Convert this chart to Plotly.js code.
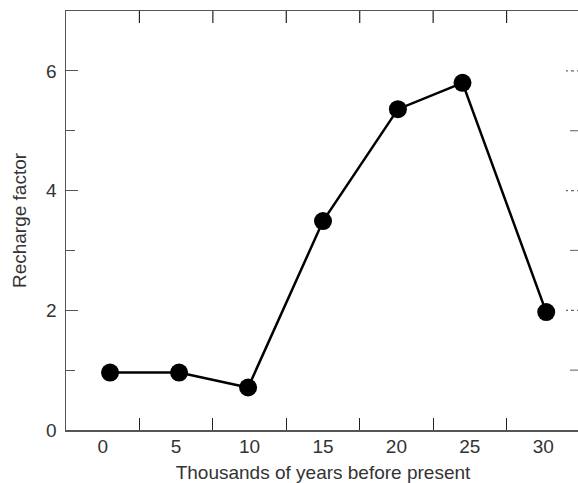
<!DOCTYPE html>
<html><head><meta charset="utf-8">
<script src="https://cdn.plot.ly/plotly-3.0.1.min.js"></script>
<style>html,body{margin:0;padding:0;overflow:hidden;background:#fff;width:578px;height:483px}</style>
</head><body>
<div id="chart" style="width:580px;height:483px"></div>
<script>
const years = [0.5, 5.2, 9.9, 15.0, 20.1, 24.5, 30.2];
const recharge = [0.96, 0.96, 0.71, 3.49, 5.36, 5.80, 1.97];
const xTickVals = [0, 5, 10, 15, 20, 25, 30];
const xMinorVals = [2.5, 7.5, 12.5, 17.5, 22.5, 27.5];
const yTickVals = [0, 2, 4, 6];
const yMinorVals = [1, 3, 5];
const xTitle = 'Thousands of years before present';
const yTitle = 'Recharge factor';

const font = {family: 'Liberation Sans, Arial, sans-serif', size: 19, color: '#333'};
const axisColor = '#555';
const W = 580, H = 483, M = {l: 66, r: 0, t: 11, b: 53};
const plotW = W - M.l - M.r, plotH = H - M.t - M.b;

// mirrored tick marks on the top and right edges, built from the tick arrays
const topTicks = xMinorVals.map(v => ({
  type: 'line', xref: 'x', yref: 'paper', x0: v, x1: v, y0: 1, y1: 1 - 12 / plotH,
  line: {color: '#222', width: 1.2}
}));
const rightMajor = yTickVals.filter(v => v > 0).map(v => ({
  type: 'line', xref: 'paper', yref: 'y', x0: 1, x1: 1 - 14 / plotW, y0: v, y1: v,
  line: {color: '#666', width: 1.3, dash: 'dot'}
}));
const rightMinor = yMinorVals.map(v => ({
  type: 'line', xref: 'paper', yref: 'y', x0: 1, x1: 1 - 10 / plotW, y0: v, y1: v,
  line: {color: '#777', width: 1.2}
}));

Plotly.newPlot('chart', [{
  x: years, y: recharge, type: 'scatter', mode: 'lines+markers',
  line: {color: '#000', width: 2.5},
  marker: {color: '#000', size: 18},
  showlegend: false, hoverinfo: 'skip'
}], {
  width: W, height: H,
  margin: M,
  paper_bgcolor: '#fff', plot_bgcolor: '#fff',
  font: font,
  shapes: [...topTicks, ...rightMajor, ...rightMinor],
  xaxis: {
    range: [-2.5, 32.5], tickvals: xTickVals, ticks: '', showgrid: false, zeroline: false,
    showline: true, linecolor: axisColor, linewidth: 1.5, mirror: true,
    minor: {tickmode: 'array', tickvals: xMinorVals, ticks: 'inside', ticklen: 12, tickcolor: '#222', tickwidth: 1.2, showgrid: false},
    tickfont: font, ticklabelstandoff: -1,
    title: {text: xTitle, font: font, standoff: 21}
  },
  yaxis: {
    range: [0, 7], tickvals: yTickVals, ticks: 'inside', ticklen: 12, tickcolor: axisColor, tickwidth: 1.2,
    showgrid: false, zeroline: false, showline: true, linecolor: axisColor, linewidth: 1.5, mirror: false,
    minor: {tickmode: 'array', tickvals: yMinorVals, ticks: 'inside', ticklen: 9, tickcolor: axisColor, tickwidth: 1.2, showgrid: false},
    tickfont: font, ticklabelstandoff: 4,
    title: {text: yTitle, font: font, standoff: 14}
  }
}, {staticPlot: true});
</script>
</body></html>
